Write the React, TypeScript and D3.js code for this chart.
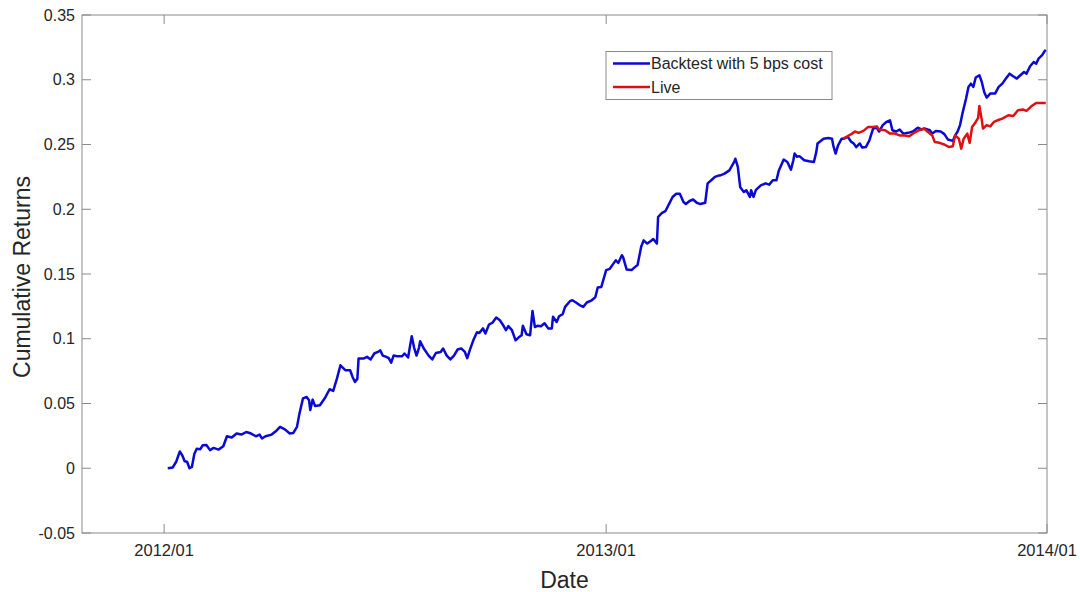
import React from "react";
import * as d3 from "d3";

const backtestDates: string[] = [
  "2012-01-04","2012-01-08","2012-01-11","2012-01-14","2012-01-16","2012-01-18","2012-01-20","2012-01-22","2012-01-24","2012-01-26",
  "2012-01-28","2012-01-31","2012-02-02","2012-02-05","2012-02-08","2012-02-11","2012-02-15","2012-02-19","2012-02-22","2012-02-26",
  "2012-03-01","2012-03-05","2012-03-09","2012-03-13","2012-03-17","2012-03-20","2012-03-22","2012-03-25","2012-03-30","2012-04-03",
  "2012-04-06","2012-04-10","2012-04-14","2012-04-17","2012-04-20","2012-04-22","2012-04-25","2012-04-28","2012-04-30","2012-05-01",
  "2012-05-03","2012-05-05","2012-05-09","2012-05-13","2012-05-17","2012-05-20","2012-05-23","2012-05-26","2012-05-30","2012-06-03",
  "2012-06-05","2012-06-07","2012-06-09","2012-06-10","2012-06-14","2012-06-17","2012-06-20","2012-06-23","2012-06-26","2012-06-28",
  "2012-06-30","2012-07-03","2012-07-05","2012-07-07","2012-07-09","2012-07-12","2012-07-16","2012-07-18","2012-07-21","2012-07-22",
  "2012-07-24","2012-07-26","2012-07-28","2012-07-30","2012-07-31","2012-08-03","2012-08-07","2012-08-10","2012-08-13","2012-08-17",
  "2012-08-19","2012-08-22","2012-08-25","2012-08-28","2012-08-31","2012-09-03","2012-09-06","2012-09-08","2012-09-10","2012-09-13",
  "2012-09-16","2012-09-18","2012-09-21","2012-09-23","2012-09-26","2012-09-29","2012-10-02","2012-10-05","2012-10-08","2012-10-10",
  "2012-10-12","2012-10-15","2012-10-18","2012-10-21","2012-10-23","2012-10-24","2012-10-27","2012-10-30","2012-11-01","2012-11-03",
  "2012-11-05","2012-11-08","2012-11-11","2012-11-14","2012-11-17","2012-11-18","2012-11-21","2012-11-23","2012-11-26","2012-11-28",
  "2012-12-02","2012-12-04","2012-12-07","2012-12-10","2012-12-13","2012-12-16","2012-12-20","2012-12-23","2012-12-25","2012-12-28",
  "2013-01-01","2013-01-04","2013-01-07","2013-01-09","2013-01-11","2013-01-14","2013-01-15","2013-01-18","2013-01-22","2013-01-25",
  "2013-01-27","2013-01-30","2013-02-01","2013-02-04","2013-02-07","2013-02-09","2013-02-12","2013-02-13","2013-02-16","2013-02-19",
  "2013-02-22","2013-02-25","2013-02-28","2013-03-03","2013-03-06","2013-03-08","2013-03-11","2013-03-14","2013-03-17","2013-03-20",
  "2013-03-24","2013-03-26","2013-03-29","2013-04-01","2013-04-04","2013-04-05","2013-04-09","2013-04-13","2013-04-17","2013-04-18",
  "2013-04-20","2013-04-22","2013-04-25","2013-04-27","2013-04-30","2013-05-01","2013-05-03","2013-05-05","2013-05-09","2013-05-13",
  "2013-05-16","2013-05-19","2013-05-22","2013-05-24","2013-05-28","2013-05-31","2013-06-03","2013-06-05","2013-06-06","2013-06-08",
  "2013-06-10","2013-06-14","2013-06-18","2013-06-22","2013-06-24","2013-06-25","2013-06-30","2013-07-04","2013-07-07","2013-07-08",
  "2013-07-10","2013-07-12","2013-07-15","2013-07-17","2013-07-20","2013-07-23","2013-07-25","2013-07-27","2013-07-30","2013-08-01",
  "2013-08-04","2013-08-07","2013-08-10","2013-08-13","2013-08-15","2013-08-18","2013-08-21","2013-08-24","2013-08-26","2013-08-29",
  "2013-09-01","2013-09-04","2013-09-08","2013-09-12","2013-09-16","2013-09-19","2013-09-22","2013-09-26","2013-09-28","2013-10-01",
  "2013-10-05","2013-10-08","2013-10-11","2013-10-15","2013-10-17","2013-10-19","2013-10-21","2013-10-23","2013-10-26","2013-10-28",
  "2013-10-30","2013-11-01","2013-11-03","2013-11-06","2013-11-08","2013-11-10","2013-11-12","2013-11-15","2013-11-19","2013-11-22",
  "2013-11-25","2013-11-28","2013-12-01","2013-12-04","2013-12-07","2013-12-09","2013-12-13","2013-12-15","2013-12-18","2013-12-21",
  "2013-12-23","2013-12-25","2013-12-28","2013-12-30","2013-12-31"
];

const backtestValues: number[] = [
  0.000,0.0005,0.005,0.013,0.010,0.0054,0.005,0.000,0.001,0.011,
  0.015,0.0147,0.0178,0.018,0.014,0.0157,0.0144,0.017,0.0247,0.0237,
  0.0268,0.026,0.028,0.0268,0.0247,0.026,0.023,0.0247,0.026,0.029,
  0.032,0.030,0.0268,0.0273,0.032,0.042,0.054,0.055,0.0525,0.045,
  0.053,0.048,0.0486,0.054,0.061,0.0597,0.069,0.0795,0.0757,0.0757,
  0.0705,0.0667,0.069,0.0847,0.0847,0.086,0.084,0.0886,0.0898,0.091,
  0.087,0.086,0.085,0.0816,0.087,0.0865,0.0865,0.0886,0.0855,0.091,
  0.102,0.093,0.087,0.093,0.098,0.0925,0.087,0.084,0.089,0.0898,
  0.0925,0.087,0.084,0.087,0.0917,0.0925,0.0898,0.085,0.091,0.0988,
  0.105,0.1045,0.108,0.104,0.111,0.1125,0.1164,0.1143,0.110,0.1066,
  0.1097,0.1066,0.0988,0.1014,0.1027,0.110,0.1035,0.1027,0.1215,0.109,
  0.110,0.1097,0.112,0.108,0.108,0.117,0.113,0.1174,0.119,0.1246,
  0.129,0.1297,0.128,0.126,0.1246,0.128,0.1297,0.132,0.1395,0.140,
  0.153,0.154,0.158,0.1606,0.1585,0.1645,0.163,0.1534,0.153,0.1555,
  0.157,0.171,0.176,0.1735,0.1755,0.177,0.1735,0.194,0.197,0.1985,
  0.204,0.2095,0.212,0.212,0.2056,0.204,0.2064,0.2075,0.205,0.204,
  0.205,0.220,0.2224,0.225,0.226,0.226,0.2275,0.230,0.2365,0.239,
  0.2327,0.217,0.2134,0.2147,0.2095,0.2147,0.2095,0.215,0.2185,0.220,
  0.219,0.2224,0.2224,0.230,0.2384,0.2365,0.2306,0.2378,0.243,0.2405,
  0.241,0.2378,0.237,0.2365,0.2443,0.2508,0.2545,0.255,0.2545,0.2494,
  0.243,0.2494,0.2545,0.2545,0.256,0.252,0.2508,0.248,0.2508,0.2476,
  0.248,0.2533,0.2623,0.263,0.260,0.265,0.2674,0.2687,0.261,0.260,
  0.2616,0.2584,0.259,0.260,0.263,0.2616,0.2623,0.261,0.2584,0.2605,
  0.260,0.258,0.2538,0.2528,0.2571,0.260,0.265,0.274,0.2855,0.2945,
  0.297,0.2945,0.3017,0.3035,0.2983,0.2906,0.2862,0.2893,0.2893,0.2945,
  0.297,0.3009,0.3047,0.3027,0.3009,0.3027,0.306,0.3047,0.3104,0.3137,
  0.3124,0.3163,0.319,0.322,0.323
];

const liveDates: string[] = [
  "2013-07-16","2013-07-19","2013-07-23","2013-07-26","2013-07-29","2013-08-02","2013-08-06","2013-08-10","2013-08-13","2013-08-15",
  "2013-08-20","2013-08-24","2013-08-28","2013-09-01","2013-09-05","2013-09-09","2013-09-13","2013-09-17","2013-09-21","2013-09-24",
  "2013-09-28","2013-09-30","2013-10-04","2013-10-08","2013-10-12","2013-10-15","2013-10-17","2013-10-20","2013-10-22","2013-10-24",
  "2013-10-27","2013-10-29","2013-10-31","2013-11-03","2013-11-05","2013-11-06","2013-11-08","2013-11-09","2013-11-12","2013-11-15",
  "2013-11-18","2013-11-21","2013-11-25","2013-11-30","2013-12-04","2013-12-08","2013-12-12","2013-12-15","2013-12-19","2013-12-23",
  "2013-12-31"
];

const liveValues: number[] = [
  0.2545,0.256,0.258,0.260,0.259,0.2605,0.2636,0.2636,0.264,0.2616,
  0.261,0.2584,0.2584,0.257,0.257,0.2564,0.259,0.261,0.2623,0.260,
  0.257,0.252,0.2513,0.250,0.248,0.2486,0.2571,0.2545,0.2468,0.2545,
  0.2584,0.2513,0.2636,0.2674,0.2705,0.2798,0.269,0.2623,0.265,0.264,
  0.2674,0.2687,0.270,0.2726,0.272,0.2765,0.277,0.276,0.2795,0.282,
  0.282
];

const yTicks: number[] = [-0.05, 0, 0.05, 0.1, 0.15, 0.2, 0.25, 0.3, 0.35];
const xTickDates: string[] = ["2012-01-01", "2013-01-01", "2014-01-01"];
const xTickLabels: string[] = ["2012/01", "2013/01", "2014/01"];
const seriesNames: string[] = ["Backtest with 5 bps cost", "Live"];
const seriesColors: string[] = ["#0a0ad2", "#e01010"];

const W = 1080;
const H = 592;
const L = 82, R = 1047, T = 15, B = 533;
const FONT = "Arial, 'Liberation Sans', Helvetica, sans-serif";
const AXIS = "#8a8a8a";
const TEXT = "#262626";

export default function App() {
  const parse = d3.timeParse("%Y-%m-%d");
  const x = d3
    .scaleTime()
    .domain([new Date(2011, 9, 25), new Date(2014, 0, 1)])
    .range([L, R]);
  const y = d3.scaleLinear().domain([-0.05, 0.35]).range([B, T]);

  const backtest = backtestDates.map((d, i) => ({ date: parse(d) as Date, value: backtestValues[i] }));
  const live = liveDates.map((d, i) => ({ date: parse(d) as Date, value: liveValues[i] }));

  const line = d3
    .line<{ date: Date; value: number }>()
    .x((d) => x(d.date))
    .y((d) => y(d.value));

  const fmt = (v: number) => {
    const r = Math.round(v * 100) / 100;
    if (r === 0) return "0";
    return String(r);
  };

  const tickLen = 9;

  return (
    <svg
      width={W}
      height={H}
      style={{ position: "absolute", left: 0, top: 0, background: "#fff" }}
      fontFamily={FONT}
    >
      <rect x={0} y={0} width={W} height={H} fill="#fff" />
      {yTicks.map((t) => (
        <g key={"y" + t}>
          <line x1={L} x2={L + tickLen} y1={y(t)} y2={y(t)} stroke={AXIS} strokeWidth={1} />
          <line x1={R} x2={R - tickLen} y1={y(t)} y2={y(t)} stroke={AXIS} strokeWidth={1} />
          <text x={L - 7} y={y(t)} dy="0.35em" textAnchor="end" fontSize={16} fill={TEXT}>
            {fmt(t)}
          </text>
        </g>
      ))}
      {xTickDates.map((d, i) => {
        const xp = x(parse(d) as Date);
        return (
          <g key={"x" + d}>
            <line x1={xp} x2={xp} y1={B} y2={B - tickLen} stroke={AXIS} strokeWidth={1} />
            <line x1={xp} x2={xp} y1={T} y2={T + tickLen} stroke={AXIS} strokeWidth={1} />
            <text x={xp} y={556} textAnchor="middle" fontSize={16.5} fill={TEXT}>
              {xTickLabels[i]}
            </text>
          </g>
        );
      })}
      <rect x={L} y={T} width={R - L} height={B - T} fill="none" stroke={AXIS} strokeWidth={1} />

      <path d={line(backtest) || ""} fill="none" stroke={seriesColors[0]} strokeWidth={2.5} strokeLinejoin="round" />
      <path d={line(live) || ""} fill="none" stroke={seriesColors[1]} strokeWidth={2.5} strokeLinejoin="round" />

      <text x={(L + R) / 2} y={588} textAnchor="middle" fontSize={23} fill={TEXT}>
        Date
      </text>
      <text
        transform={`translate(30, ${(T + B) / 2 + 3}) rotate(-90)`}
        textAnchor="middle"
        fontSize={23}
        fill={TEXT}
      >
        Cumulative Returns
      </text>

      <g>
        <rect x={606} y={51.5} width={226} height={48} fill="#fff" stroke={AXIS} strokeWidth={1} />
        {seriesNames.map((n, i) => (
          <g key={n}>
            <line x1={613} x2={650} y1={63.5 + i * 23.5} y2={63.5 + i * 23.5} stroke={seriesColors[i]} strokeWidth={2.5} />
            <text x={651} y={63.5 + i * 23.5} dy="0.35em" fontSize={16} fill={TEXT}>
              {n}
            </text>
          </g>
        ))}
      </g>
    </svg>
  );
}
